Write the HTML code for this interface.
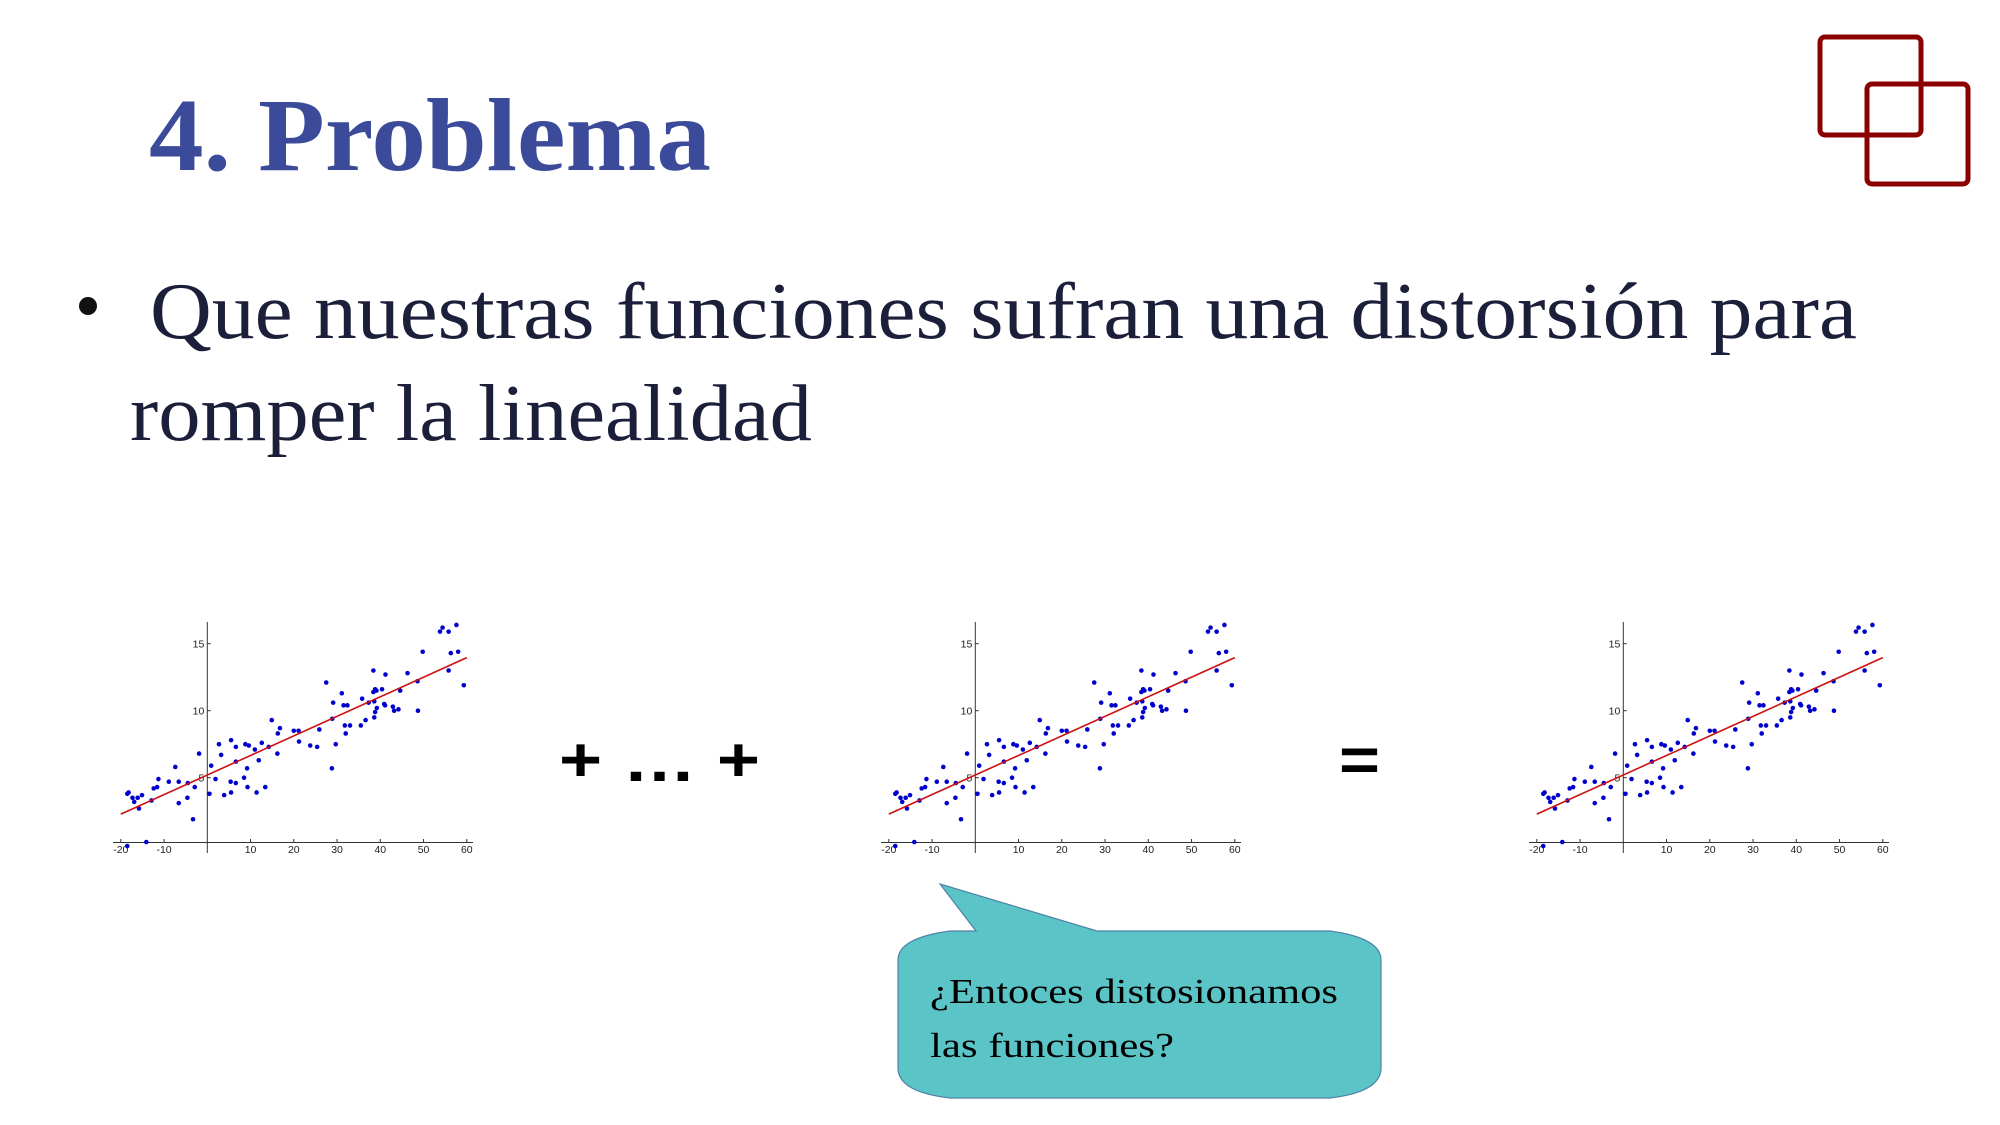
<!DOCTYPE html>
<html><head><meta charset="utf-8"><style>
html,body{margin:0;padding:0;background:#fff;}
svg{display:block;}
</style></head><body>
<svg id="slide" width="2000" height="1125" viewBox="0 0 2000 1125" xmlns="http://www.w3.org/2000/svg">
<rect width="2000" height="1125" fill="#fff"/>
<g fill="none" stroke="#8b0000" stroke-width="5">
<rect x="1820" y="37" width="101" height="98" rx="5"/>
<rect x="1867" y="84" width="101" height="100" rx="5"/>
</g>
<text x="149" y="170" font-family="Liberation Serif, serif" font-weight="bold" font-size="104" fill="#3b4b9a" textLength="562" lengthAdjust="spacingAndGlyphs">4. Problema</text>
<circle cx="88" cy="306" r="9" fill="#111"/>
<text x="150" y="338" font-family="Liberation Serif, serif" font-size="80" fill="#1c1f3a" textLength="1707" lengthAdjust="spacingAndGlyphs">Que nuestras funciones sufran una distorsión para</text>
<text x="130" y="440" font-family="Liberation Serif, serif" font-size="80" fill="#1c1f3a" textLength="682" lengthAdjust="spacingAndGlyphs">romper la linealidad</text>
<text x="559" y="781" font-family="Liberation Sans, sans-serif" font-weight="bold" font-size="62" fill="#000" textLength="201" lengthAdjust="spacingAndGlyphs">+ … +</text>
<text x="1339" y="781" font-family="Liberation Sans, sans-serif" font-weight="bold" font-size="62" fill="#000" textLength="41" lengthAdjust="spacingAndGlyphs">=</text>
<g>
<path d="M976 931 L940 884 L1097 931 L1330 931 Q1381 938 1381 960 L1381 1068 Q1381 1092 1330 1098 L950 1098 Q898 1092 898 1068 L898 960 Q898 938 950 931 Z" fill="#5bc4c6" stroke="#4d82a8" stroke-width="1.2"/>
<text x="930" y="1003" font-family="Liberation Serif, serif" font-size="35" fill="#000" textLength="408" lengthAdjust="spacingAndGlyphs">¿Entoces distosionamos</text>
<text x="930" y="1057" font-family="Liberation Serif, serif" font-size="35" fill="#000" textLength="244" lengthAdjust="spacingAndGlyphs">las funciones?</text>
</g>
<g id="charts"></g>
</svg>
<script>
const xs=[-18.5,-18.2,-17.3,-16.9,-16.1,-15.8,-15.1,-18.5,-14.1,-12.9,-12.4,-11.6,-11.3,-8.9,-7.4,-6.6,-6.6,-4.5,-4.6,-3.3,-2.9,-1.9,0.5,0.9,1.9,2.7,3.2,3.9,5.5,5.4,5.5,6.6,6.6,6.6,8.5,8.8,9.2,9.3,9.6,11.0,11.4,11.9,12.6,13.4,14.2,14.9,16.2,16.3,16.8,20.0,21.1,21.2,23.8,25.4,25.9,27.5,28.8,28.9,29.1,29.7,31.1,31.5,31.8,32.0,32.4,33.0,35.5,35.8,36.6,37.3,38.4,38.4,38.6,38.6,38.8,38.8,39.1,39.2,40.4,40.9,41.1,41.2,42.9,43.2,44.2,44.6,46.3,48.6,48.7,49.8,53.8,54.4,55.8,55.8,56.3,57.6,58.0,59.3];
const ys=[3.8,3.9,3.5,3.2,3.5,2.7,3.7,-0.1,0.2,3.3,4.2,4.3,4.9,4.7,5.8,4.7,3.1,4.6,3.5,1.9,4.3,6.8,3.8,5.9,4.9,7.5,6.7,3.7,7.8,4.7,3.9,7.3,6.2,4.6,5.0,7.5,5.7,4.3,7.4,7.1,3.9,6.3,7.6,4.3,7.3,9.3,6.8,8.3,8.7,8.5,8.5,7.7,7.4,7.3,8.6,12.1,5.7,9.4,10.6,7.5,11.3,10.4,8.9,8.3,10.4,8.9,8.9,10.9,9.3,10.6,11.4,13.0,10.7,9.5,11.6,9.9,11.5,10.2,11.6,10.5,10.4,12.7,10.3,10.0,10.1,11.5,12.8,12.2,10.0,14.4,15.9,16.2,15.9,13.0,14.3,16.4,14.4,11.9];
const fitIntercept=5.2;
const fitSlope=0.146;
const fitRange=[-20,60];
const xTicks=[-20,-10,10,20,30,40,50,60];
const xTickLabels=["-20","-10","10","20","30","40","50","60"];
const yTicks=[5,10,15];
const yTickLabels=["5","10","15"];
const chartNames=["chart-left","chart-middle","chart-right"];
const chartOffsets=[0,768,1416];

const NS="http://www.w3.org/2000/svg";
const root=document.getElementById('charts');
function mk(tag,attrs,parent){const e=document.createElementNS(NS,tag);for(const k in attrs)e.setAttribute(k,attrs[k]);parent.appendChild(e);return e;}
chartNames.forEach((name,ci)=>{
  const off=chartOffsets[ci];
  const sx=v=>off+207.3+v*4.325;
  const sy=v=>844.7-v*13.4;
  const g=mk('g',{},root);
  
  
  const xa=mk('line',{x1:off+113,x2:off+473,y1:842.5,y2:842.5,stroke:'#333','stroke-width':1},g);
  
  
  const ya=mk('line',{x1:sx(0),x2:sx(0),y1:622,y2:853,stroke:'#333','stroke-width':1},g);
  
  
  xTicks.forEach((t,i)=>{
    const tk=mk('line',{x1:sx(t),x2:sx(t),y1:842.5,y2:839,stroke:'#333','stroke-width':1},g);
    
    
    const tl=mk('text',{x:sx(t),y:853,'font-family':'Liberation Sans, sans-serif','font-size':10.5,fill:'#222','text-anchor':'middle'},g);
    tl.textContent=xTickLabels[i];
    
    
  });
  yTicks.forEach((t,i)=>{
    const tk=mk('line',{x1:sx(0),x2:sx(0)+3.5,y1:sy(t),y2:sy(t),stroke:'#333','stroke-width':1},g);
    
    
    const tl=mk('text',{x:sx(0)-3,y:sy(t)+4,'font-family':'Liberation Sans, sans-serif','font-size':10.5,fill:'#222','text-anchor':'end'},g);
    tl.textContent=yTickLabels[i];
    
    
  });
  xs.forEach((x,i)=>{
    const c=mk('circle',{cx:sx(x),cy:sy(ys[i]),r:2.3,fill:'#0000cc'},g);
    
    
  });
  const ln=mk('line',{x1:sx(fitRange[0]),y1:sy(fitIntercept+fitSlope*fitRange[0]),x2:sx(fitRange[1]),y2:sy(fitIntercept+fitSlope*fitRange[1]),stroke:'#cc1111','stroke-width':1.6},g);
  
  
});
</script>
</body></html>
